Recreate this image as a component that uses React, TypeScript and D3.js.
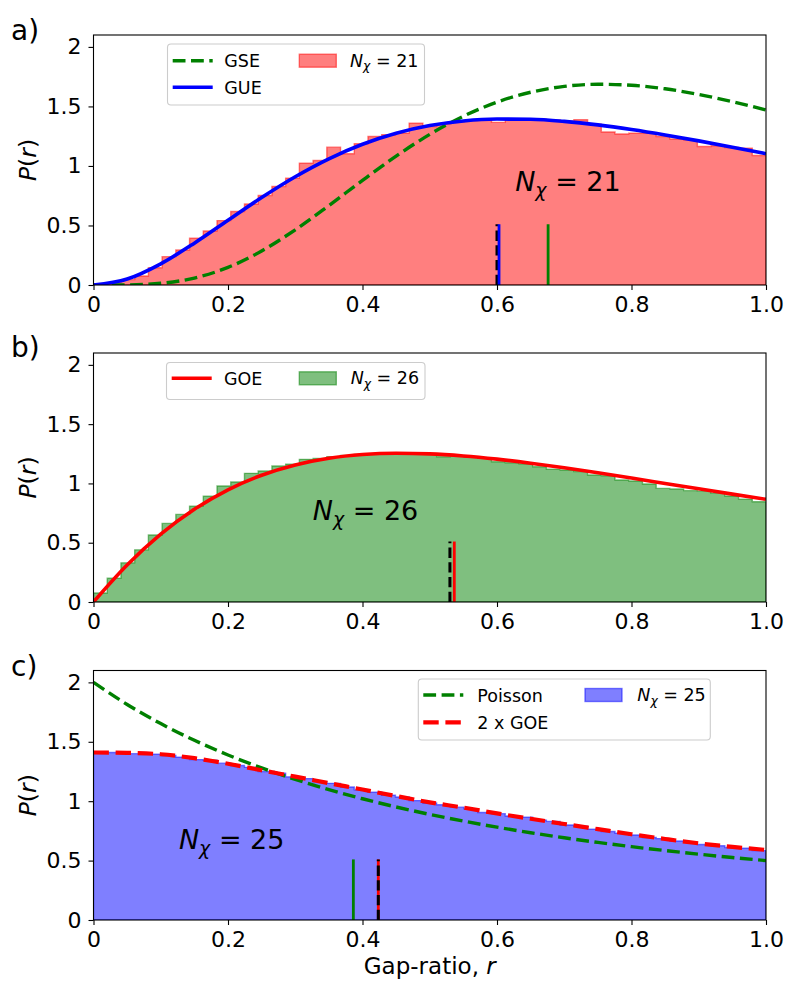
import React, { useEffect, useRef } from 'react';
import * as d3 from 'd3';

// sample grid for the theory curves
const rGrid = [0, 0.05, 0.1, 0.15, 0.2, 0.25, 0.3, 0.35, 0.4, 0.45, 0.5, 0.55, 0.6, 0.65, 0.7, 0.75, 0.8, 0.85, 0.9, 0.95, 1.0];

const gseCurve = [0, 0.0011, 0.0142, 0.0584, 0.1479, 0.2856, 0.4637, 0.6674, 0.879, 1.0825, 1.265, 1.4177, 1.5361, 1.619, 1.668, 1.6863, 1.6782, 1.6481, 1.6007, 1.5402, 1.4702];
const gueCurve = [0, 0.0502, 0.178, 0.3516, 0.544, 0.7348, 0.9098, 1.0604, 1.1824, 1.275, 1.3392, 1.378, 1.3944, 1.3922, 1.3746, 1.3451, 1.3063, 1.2608, 1.2106, 1.1575, 1.1027];
const goeCurve = [0, 0.3118, 0.572, 0.7822, 0.9462, 1.0689, 1.1557, 1.2122, 1.2436, 1.2547, 1.2496, 1.232, 1.2049, 1.1708, 1.1317, 1.0894, 1.0452, 1.0, 0.9547, 0.9099, 0.866];
const poissonCurve = [2, 1.8141, 1.6529, 1.5123, 1.3889, 1.28, 1.1834, 1.0974, 1.0204, 0.9512, 0.8889, 0.8325, 0.7813, 0.7346, 0.692, 0.6531, 0.6173, 0.5844, 0.554, 0.526, 0.5];
const twoGoeCurve = [1.41, 1.407, 1.395, 1.362, 1.315, 1.26, 1.207, 1.152, 1.098, 1.043, 0.99, 0.946, 0.897, 0.852, 0.808, 0.765, 0.722, 0.682, 0.645, 0.615, 0.59];

// histograms, 49 bins on [0, 1]
const histA = [
  0.004, 0.02, 0.045, 0.075, 0.145, 0.238, 0.294, 0.393, 0.454, 0.541,
  0.617, 0.681, 0.752, 0.827, 0.897, 1.024, 1.046, 1.158, 1.102, 1.186,
  1.248, 1.262, 1.276, 1.36, 1.332, 1.355, 1.37, 1.382, 1.39, 1.366,
  1.395, 1.395, 1.392, 1.386, 1.378, 1.388, 1.35, 1.285, 1.268, 1.276,
  1.276, 1.248, 1.226, 1.22, 1.164, 1.17, 1.155, 1.15, 1.088,
];
const histB = [
  0.076, 0.2, 0.33, 0.44, 0.565, 0.663, 0.739, 0.809, 0.893, 0.978,
  1.012, 1.085, 1.105, 1.147, 1.163, 1.203, 1.21, 1.225, 1.235, 1.245,
  1.25, 1.255, 1.25, 1.25, 1.245, 1.225, 1.232, 1.222, 1.212, 1.183,
  1.175, 1.165, 1.141, 1.119, 1.113, 1.1, 1.071, 1.065, 1.029, 1.02,
  0.995, 0.958, 0.953, 0.939, 0.935, 0.916, 0.894, 0.868, 0.846,
];
const histC = [
  1.405, 1.41, 1.4, 1.4, 1.395, 1.385, 1.37, 1.35, 1.345, 1.32,
  1.3, 1.285, 1.25, 1.235, 1.205, 1.19, 1.165, 1.15, 1.12, 1.095,
  1.075, 1.05, 1.035, 1.005, 0.985, 0.97, 0.95, 0.935, 0.905, 0.895,
  0.875, 0.865, 0.84, 0.83, 0.8, 0.79, 0.765, 0.745, 0.73, 0.715,
  0.695, 0.685, 0.665, 0.655, 0.635, 0.625, 0.61, 0.605, 0.584,
];

// mean gap ratios marked by short vertical lines
const meanData = [0.6, 0.53, 0.4235];
const meanGUE = 0.603;
const meanGSE = 0.676;
const meanGOE = 0.5365;
const meanTwoGOE = 0.4235;
const meanPoisson = 0.3864;
const markerHeight = 0.51;

const nChi = [21, 26, 25];

const xTicks = [0, 0.2, 0.4, 0.6, 0.8, 1.0];
const xTickLabels = ['0', '0.2', '0.4', '0.6', '0.8', '1.0'];
const yTicks = [0, 0.5, 1, 1.5, 2];
const yTickLabels = ['0', '0.5', '1', '1.5', '2'];

const FONT = "'DejaVu Sans', sans-serif";
const LEFT = 93.5;
const RIGHT = 766;
const TICK_FS = 22;
const LABEL_FS = 23.5;
const LEGEND_FS = 17.5;
const NOTE_FS = 27;

const GREEN = '#008000';
const BLUE = '#0000ff';
const RED = '#ff0000';

type Curve = { values: number[]; color: string; width: number; dash?: string; label: string };
type Marker = { r: number; color: string; width: number; dash?: string };

const dashThin = '12.8,5.5';
const dashThick = '15.4,6.7';

const panels = [
  {
    key: 'a', top: 35, bottom: 285, labelY: 40, hist: histA, color: RED, n: nChi[0],
    curves: [
      { values: gseCurve, color: GREEN, width: 3.4, dash: dashThin, label: 'GSE' },
      { values: gueCurve, color: BLUE, width: 3.6, label: 'GUE' },
    ] as Curve[],
    markers: [
      { r: meanData[0], color: '#000', width: 3, dash: '10.3,4.4' },
      { r: meanGUE, color: BLUE, width: 2.8 },
      { r: meanGSE, color: GREEN, width: 2.8 },
    ] as Marker[],
    note: { x: 0.627, y: 0.79 },
    legend: { x: 167.5, y: 44, w: 257, h: 61, rows: [60.7, 87.3], lineX: 172.7, textX: 224.3, patchX: 299.3, patchText: 350 },
  },
  {
    key: 'b', top: 353, bottom: 602, labelY: 357, hist: histB, color: GREEN, n: nChi[1],
    curves: [{ values: goeCurve, color: RED, width: 3.6, label: 'GOE' }] as Curve[],
    markers: [
      { r: meanData[1], color: '#000', width: 3, dash: '10.3,4.4' },
      { r: meanGOE, color: RED, width: 2.8 },
    ] as Marker[],
    note: { x: 0.326, y: 0.69 },
    legend: { x: 166.5, y: 362.5, w: 258.5, h: 37, rows: [378.3], lineX: 171.7, textX: 224, patchX: 299.3, patchText: 350.7 },
  },
  {
    key: 'c', top: 670.5, bottom: 920, labelY: 676, hist: histC, color: BLUE, n: nChi[2],
    curves: [
      { values: poissonCurve, color: GREEN, width: 3.4, dash: dashThin, label: 'Poisson' },
      { values: twoGoeCurve, color: RED, width: 4.2, dash: dashThick, label: '2 x GOE' },
    ] as Curve[],
    markers: [
      { r: meanPoisson, color: GREEN, width: 2.8 },
      { r: meanTwoGOE, color: RED, width: 2.8 },
      { r: meanData[2], color: '#000', width: 3, dash: '10.3,4.4' },
    ] as Marker[],
    note: { x: 0.127, y: 0.6 },
    legend: { x: 418.3, y: 679, w: 292, h: 61, rows: [695, 722.3], lineX: 423.3, textX: 477.3, patchX: 585, patchText: 637.3 },
  },
];

// italic N with subscript chi, then " = n"
function writeNChi(text: d3.Selection<SVGTextElement, unknown, null, undefined>, n: number, fs: number) {
  text.style('white-space', 'pre');
  text.append('tspan').attr('font-style', 'italic').text('N');
  text.append('tspan').attr('font-style', 'italic').attr('font-size', fs * 0.7).attr('dy', fs * 0.22).text('χ');
  text.append('tspan').attr('dy', -fs * 0.22).text(` = ${n}`);
}

const App: React.FC = () => {
  const svgRef = useRef<SVGSVGElement | null>(null);

  useEffect(() => {
    const svg = d3.select(svgRef.current);
    svg.selectAll('*').remove();
    const defs = svg.append('defs');

    const x = d3.scaleLinear().domain([0, 1]).range([LEFT, RIGHT]);

    panels.forEach(p => {
      const y = d3.scaleLinear().domain([0, 2.1]).range([p.bottom, p.top]);
      const g = svg.append('g');

      const clipId = `clip-${p.key}`;
      defs.append('clipPath').attr('id', clipId)
        .append('rect')
        .attr('x', LEFT).attr('y', p.top)
        .attr('width', RIGHT - LEFT).attr('height', p.bottom - p.top);
      const plot = g.append('g').attr('clip-path', `url(#${clipId})`);

      // stepfilled histogram
      const bw = 1 / p.hist.length;
      const pts: [number, number][] = p.hist.map((v, i) => [i * bw, v] as [number, number]);
      pts.push([1, p.hist[p.hist.length - 1]]);
      const area = d3.area<[number, number]>()
        .x(d => x(d[0]))
        .y0(y(0))
        .y1(d => y(d[1]))
        .curve(d3.curveStepAfter);
      plot.append('path')
        .attr('d', area(pts))
        .attr('fill', p.color).attr('fill-opacity', 0.5)
        .attr('stroke', p.color).attr('stroke-opacity', 0.5).attr('stroke-width', 1.4);

      // theory curves
      p.curves.forEach(c => {
        const line = d3.line<number>()
          .x((_, i) => x(rGrid[i]))
          .y(d => y(d))
          .curve(d3.curveMonotoneX);
        plot.append('path')
          .attr('d', line(c.values))
          .attr('fill', 'none')
          .attr('stroke', c.color)
          .attr('stroke-width', c.width)
          .attr('stroke-dasharray', c.dash ?? null);
      });

      // mean markers
      p.markers.forEach(m => {
        plot.append('line')
          .attr('x1', x(m.r)).attr('x2', x(m.r))
          .attr('y1', y(0)).attr('y2', y(markerHeight))
          .attr('stroke', m.color)
          .attr('stroke-width', m.width)
          .attr('stroke-dasharray', m.dash ?? null);
      });

      // annotation
      const note = g.append('text')
        .attr('x', x(p.note.x)).attr('y', y(p.note.y))
        .attr('font-family', FONT).attr('font-size', NOTE_FS).attr('fill', '#000');
      writeNChi(note, p.n, NOTE_FS);

      // frame
      g.append('rect')
        .attr('x', LEFT).attr('y', p.top)
        .attr('width', RIGHT - LEFT).attr('height', p.bottom - p.top)
        .attr('fill', 'none').attr('stroke', '#000').attr('stroke-width', 1.1);

      // axes
      const styleAxis = (s: d3.Selection<SVGGElement, unknown, null, undefined>) => {
        s.select('.domain').remove();
        s.selectAll('line').attr('stroke-width', 1.1);
        s.selectAll('text').attr('font-size', TICK_FS).attr('font-family', FONT).attr('fill', '#000');
      };
      g.append('g')
        .attr('transform', `translate(0,${p.bottom})`)
        .call(d3.axisBottom(x).tickValues(xTicks).tickFormat((_, i) => xTickLabels[i]).tickSize(5).tickPadding(6))
        .call(styleAxis);
      g.append('g')
        .attr('transform', `translate(${LEFT},0)`)
        .call(d3.axisLeft(y).tickValues(yTicks).tickFormat((_, i) => yTickLabels[i]).tickSize(5).tickPadding(7))
        .call(styleAxis);

      // y label P(r)
      const yl = g.append('text')
        .attr('transform', `translate(28,${(p.top + p.bottom) / 2}) rotate(-90)`)
        .attr('text-anchor', 'middle').attr('dominant-baseline', 'central')
        .attr('font-family', FONT).attr('font-size', LABEL_FS).attr('fill', '#000');
      yl.append('tspan').attr('font-style', 'italic').text('P');
      yl.append('tspan').text('(');
      yl.append('tspan').attr('font-style', 'italic').text('r');
      yl.append('tspan').text(')');

      // panel letter
      g.append('text')
        .attr('x', 11).attr('y', p.labelY)
        .attr('font-family', FONT).attr('font-size', 28).attr('fill', '#000')
        .text(`${p.key})`);

      // legend
      const L = p.legend;
      const lg = g.append('g');
      lg.append('rect')
        .attr('x', L.x).attr('y', L.y).attr('width', L.w).attr('height', L.h)
        .attr('rx', 3.5)
        .attr('fill', '#fff').attr('fill-opacity', 0.8)
        .attr('stroke', '#cccccc').attr('stroke-width', 1.1);
      p.curves.forEach((c, i) => {
        const cy = L.rows[i];
        lg.append('line')
          .attr('x1', L.lineX).attr('x2', L.lineX + 40)
          .attr('y1', cy).attr('y2', cy)
          .attr('stroke', c.color).attr('stroke-width', c.width)
          .attr('stroke-dasharray', c.dash ?? null);
        lg.append('text')
          .attr('x', L.textX).attr('y', cy + 6.5)
          .attr('font-family', FONT).attr('font-size', LEGEND_FS).attr('fill', '#000')
          .text(c.label);
      });
      const cy0 = L.rows[0];
      lg.append('rect')
        .attr('x', L.patchX).attr('y', cy0 - 6.5)
        .attr('width', 37).attr('height', 13)
        .attr('fill', p.color).attr('fill-opacity', 0.5)
        .attr('stroke', p.color).attr('stroke-opacity', 0.5).attr('stroke-width', 1.4);
      const lt = lg.append('text')
        .attr('x', L.patchText).attr('y', cy0 + 5.8)
        .attr('font-family', FONT).attr('font-size', LEGEND_FS).attr('fill', '#000');
      writeNChi(lt, p.n, LEGEND_FS);
    });

    // x label
    const xl = svg.append('text')
      .attr('x', (LEFT + RIGHT) / 2).attr('y', 974)
      .attr('text-anchor', 'middle')
      .attr('font-family', FONT).attr('font-size', 23).attr('fill', '#000');
    xl.style('white-space', 'pre');
    xl.append('tspan').text('Gap-ratio, ');
    xl.append('tspan').attr('font-style', 'italic').text('r');
  }, []);

  return (
    <svg
      ref={svgRef}
      width={800}
      height={1000}
      viewBox="0 0 800 1000"
      style={{ position: 'absolute', left: 0, top: 0, background: '#fff' }}
    />
  );
};

export default App;
